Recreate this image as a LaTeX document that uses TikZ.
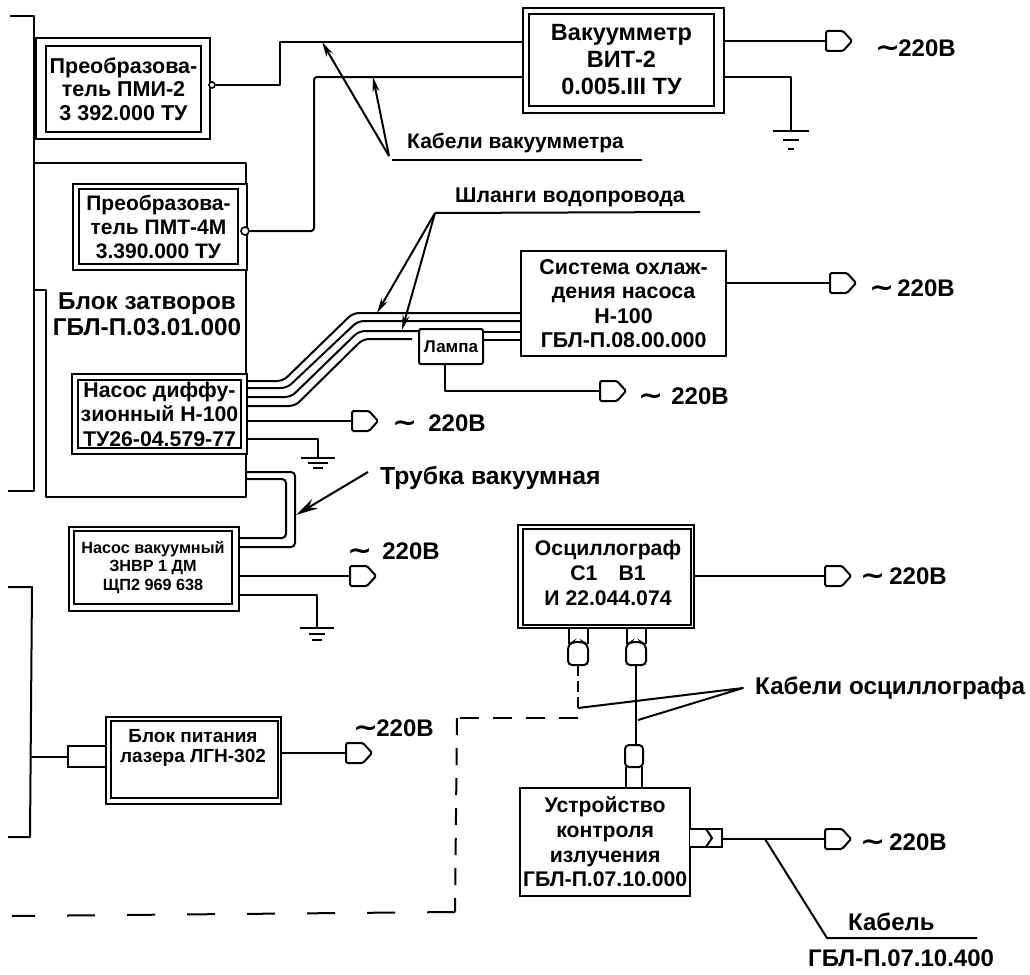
\documentclass[tikz,border=0pt]{standalone}
\usepackage{fontspec}
\setmainfont{Liberation Sans}
\newfontfamily\tlfont{DejaVu Sans}
\usetikzlibrary{arrows.meta}
\newcommand{\fsz}[2]{\fontsize{#1}{#2}\selectfont}
\newcommand{\tvolt}[1]{\scalebox{1.25}[1.1]{\tlfont\bfseries ∼}\hspace{#1pt}\hspace{-5pt}220В}
\tikzset{
 x=1pt,y=-1pt,
 wire/.style={line width=2pt,line join=round},
 outerbox/.style={draw,line width=2.2pt,anchor=north west,inner sep=0pt,fill=white},
 innerbox/.style={draw,line width=2pt,anchor=north west,inner sep=0pt,align=center,font=\bfseries,fill=white},
 txt/.style={font=\bfseries,inner sep=0pt,align=center},
 lbl/.style={font=\bfseries\fsz{21}{24},inner sep=0pt,anchor=west},
 volt/.style={font=\bfseries\fsz{24}{26},inner sep=0pt,anchor=west},
 leader/.style={line width=2pt,-{Stealth[length=15pt,width=7pt]}},
 bigleader/.style={line width=2pt,-{Stealth[length=22pt,width=11pt]}},
 gnd/.style={line width=2pt},
 hose/.style={line width=2pt,rounded corners=6pt},
}
\newcommand{\plug}[3]{%
 \coordinate (#1) at (#2,#3);
 \draw[line width=2pt,fill=white,rounded corners=1.5pt] (#2,#3-10)--(#2+17,#3-10)--(#2+26,#3)--(#2+17,#3+10)--(#2,#3+10)--cycle;}
\newcommand{\ground}[7]{%
 \coordinate (#1) at (#2,#3);
 \draw[gnd] (#2-#4,#3)--(#2+#4,#3) (#2-#5,#3+#7)--(#2+#5,#3+#7) (#2-#6,#3+2*#7)--(#2+#6,#3+2*#7);}
\begin{document}
\begin{tikzpicture}
\useasboundingbox (0,0) rectangle (1030,974);
% --- left frame lines
\draw[wire] (10,16)--(34,16)--(34,491)--(8,491);
\draw[wire] (8,587)--(32,587)--(30,837)--(8,837);
% --- block of gates (open-topped outline)
\coordinate (bzA) at (34,290);
\coordinate (bzB) at (46,290);
\coordinate (bzC) at (46,497);
\coordinate (bzD) at (246,497);
\coordinate (bzE) at (246,163);
\coordinate (bzF) at (34,163);
\draw[wire] (bzA)--(bzB)--(bzC)--(bzD)--(bzE)--(bzF);
\node[txt,font=\bfseries\fsz{24.3}{26}] (bzt) at (147,314) {Блок затворов\\ГБЛ-П.03.01.000};
% --- PMI-2
\node[outerbox,minimum width=174pt,minimum height=101pt] (pmio) at (35,37) {};
\node[innerbox,minimum width=155pt,minimum height=86pt,font=\bfseries\fsz{21.5}{23.5}] (pmi) at (45,45) {Преобразова-\\тель ПМИ-2\\3 392.000 ТУ};
% --- PMT-4M
\node[outerbox,minimum width=174pt,minimum height=86pt] (pmto) at (72,183) {};
\node[innerbox,minimum width=159pt,minimum height=75pt,font=\bfseries\fsz{21}{24}] (pmt) at (78,188) {Преобразова-\\тель ПМТ-4М\\3.390.000 ТУ};
\node[draw,circle,line width=1.6pt,fill=white,inner sep=0pt,minimum size=6pt] (pmipin) at (212,85) {};
\node[draw,circle,line width=1.6pt,fill=white,inner sep=0pt,minimum size=8pt] (pmtpin) at (245,231) {};
% --- VIT
\node[outerbox,minimum width=201pt,minimum height=105pt] (vito) at (522,7) {};
\node[innerbox,minimum width=185pt,minimum height=92pt,font=\bfseries\fsz{23.5}{27}] (vit) at (528,13) {Вакуумметр\\ВИТ-2\\0.005.III ТУ};
% cables
\draw[wire] (pmipin)--(280,85)--(280,42)--(vito.west |- 0,42);
\draw[wire,rounded corners=3pt] (pmtpin)--(314,231)--(314,77)--(vito.west |- 0,77);
\plug{p1}{826}{41}
\draw[wire] (vito.east |- p1)--(p1);
\ground{g1}{791}{131}{18}{8}{3}{9}
\draw[wire] (vito.east |- 0,77)--(791,77)--(g1);
\node[volt] (t220a) at (875,48) {\tvolt{3}};
% leaders kabeli vakuummetra
\coordinate (kv) at (389,156);
\coordinate (kvs) at (392,160);
\coordinate (kvend) at (642,160);
\coordinate (kv1) at (322,42);
\coordinate (kv2) at (373,77);
\draw[wire] (kvend)--(kvs);
\draw[leader] (kv)--(kv1);
\draw[leader] (kv)--(kv2);
\node[lbl] (tkv) at (407,143) {Кабели вакуумметра};
% --- cooling
\node[draw,line width=2.2pt,anchor=north west,minimum width=205pt,minimum height=105pt,align=center,inner sep=0pt,font=\bfseries\fsz{21.4}{24.5}] (cool) at (520,250) {Система охлаж-\\дения насоса\\Н-100\\ГБЛ-П.08.00.000};
\plug{p2}{830}{283}
\draw[wire] (cool.east |- p2)--(p2);
\node[volt] (t220b) at (869,288) {\tvolt{8}};
% --- diffusion pump
\node[outerbox,minimum width=175pt,minimum height=80pt] (dpo) at (71,373) {};
\node[innerbox,minimum width=163pt,minimum height=68pt,font=\bfseries\fsz{21.3}{24.5}] (dp) at (77,379) {Насос диффу-\\зионный Н-100\\ТУ26-04.579-77};
% lamp
\node[draw,line width=2pt,rounded corners=2pt,fill=white,minimum width=64pt,minimum height=35pt,anchor=north west,inner sep=0pt,font=\bfseries\fsz{17}{19}] (lamp) at (418,328) {Лампа};
% hoses
\draw[hose] (dpo.east |- 0,381)--(283,381)--(353,313)--(cool.west |- 0,313);
\draw[hose] (dpo.east |- 0,388)--(287,388)--(358,321)--(cool.west |- 0,321);
\draw[hose] (dpo.east |- 0,397)--(291,397)--(359,331)--(lamp.west |- 0,331);
\draw[hose] (dpo.east |- 0,406)--(295,406)--(363,339)--(412,339);
\draw[wire] (cool.west |- 0,332)--(lamp.east |- 0,332) (cool.west |- 0,340)--(lamp.east |- 0,340);
\plug{p3}{600}{391}
\draw[wire] (lamp.south -| 445,0)--(445,391)--(p3);
\node[volt] (t220c) at (638,396) {\tvolt{13}};
% leaders hoses
\coordinate (sh) at (435,213);
\coordinate (shend) at (700,212);
\coordinate (sh1) at (377,313);
\coordinate (sh2) at (402,330);
\draw[wire] (shend)--(sh);
\draw[leader] (sh)--(sh1);
\draw[leader] (sh)--(sh2);
\node[lbl,font=\bfseries\fsz{21.3}{24}] (tsh) at (455,197) {Шланги водопровода};
% pump outputs
\plug{p4}{352}{421}
\draw[wire] (dpo.east |- p4)--(p4);
\node[volt] (t220d) at (392,423) {\tvolt{16}};
\ground{g2}{318}{458}{17}{10}{5}{5}
\draw[wire] (dpo.east |- 0,439)--(318,439)--(g2);
% --- vacuum pump
\node[outerbox,minimum width=170pt,minimum height=84pt] (vpo) at (68,526) {};
\node[innerbox,minimum width=158pt,minimum height=73pt,font=\bfseries\fsz{16.2}{18.5}] (vp) at (73,530) {Насос вакуумный\\ЗНВР 1 ДМ\\ЩП2 969 638};
\draw[line width=2pt,rounded corners=4pt] (bzD |- 0,472)--(295,472)--(295,547)--(vpo.east |- 0,547);
\draw[line width=2pt,rounded corners=4pt] (bzD |- 0,479)--(286,479)--(286,538)--(vpo.east |- 0,538);
\coordinate (tv) at (368,472);
\coordinate (tv1) at (296,515);
\draw[bigleader] (tv)--(tv1);
\node[lbl,font=\bfseries\fsz{24.7}{26}] (ttv) at (380,478) {Трубка вакуумная};
\plug{p5}{350}{576}
\draw[wire] (vpo.east |- p5)--(p5);
\node[volt] (t220e) at (347,551) {\tvolt{15}};
\ground{g3}{317}{628}{17}{8}{5}{6}
\draw[wire] (vpo.east |- 0,595)--(317,595)--(g3);
% --- laser PSU
\node[outerbox,minimum width=175pt,minimum height=87pt] (lao) at (105,716) {};
\node[innerbox,minimum width=167pt,minimum height=77pt] (la) at (110,720) {};
\node[txt,font=\bfseries\fsz{19}{20.5}] (lat) at (193,748) {Блок питания\\лазера ЛГН-302};
\node[draw,line width=2pt,anchor=north west,minimum width=38pt,minimum height=21pt,inner sep=0pt] (lac) at (67,745) {};
\draw[wire] (30,757)--(lac.west |- 0,757);
\plug{p6}{346}{753}
\draw[wire] (lao.east |- p6)--(p6);
\node[volt] (t220f) at (353,728) {\tvolt{3}};
% --- oscillograph
\node[outerbox,minimum width=176pt,minimum height=103pt] (oso) at (517,524) {};
\node[innerbox,minimum width=168pt,minimum height=96pt] (os) at (522,528) {};
\node[txt,font=\bfseries\fsz{21.2}{25}] (ost) at (608,573) {Осциллограф\\С1\quad В1\\И 22.044.074};
\plug{p7}{825}{576}
\draw[wire] (oso.east |- p7)--(p7);
\node[volt] (t220g) at (860,576) {\tvolt{9}};
\foreach \n/\cx in {c1/578,c2/636}{
 \draw[line width=2pt] (\cx-9.5,627)--(\cx-9.5,644) (\cx+9.5,627)--(\cx+9.5,644);
 \draw[line width=2pt,rounded corners=4pt,fill=white] (\cx-10,645)--(\cx-5,642)--(\cx+5,642)--(\cx+10,645)--(\cx+10,665)--(\cx-10,665)--cycle;
 \coordinate (\n) at (\cx,665);}
% --- control device
\node[draw,line width=2.2pt,anchor=north west,minimum width=170pt,minimum height=108pt,align=center,inner sep=0pt,font=\bfseries\fsz{21.2}{24.7}] (ud) at (519,787) {Устройство\\контроля\\излучения\\ГБЛ-П.07.10.000};
\draw[line width=2pt] (626,787)--(626,767) (642,787)--(642,767);
\draw[line width=2pt,rounded corners=4pt,fill=white] (625,745)--(643,745)--(643,767)--(625,767)--cycle;
\coordinate (ud1) at (636,745);
\draw[wire] (c2)--(ud1);
% dashed cable
\coordinate (d0) at (578,708);
\coordinate (d1) at (578,718);
\coordinate (d2) at (457,718);
\coordinate (d3) at (455,912);
\coordinate (d4) at (12,916);
\draw[line width=2pt,dash pattern=on 11pt off 5pt] (c1)--(d0);
\draw[line width=2pt,dash pattern=on 19pt off 14pt] (d1)--(d2);
\draw[line width=2pt,dash pattern=on 17pt off 13pt] (d2)--(d3);
\draw[line width=2pt,dash pattern=on 28pt off 32pt] (d3)--(d4);
% leaders oscillograph
\coordinate (ko) at (743,688);
\coordinate (ko1) at (578,708);
\coordinate (ko2) at (638,720);
\draw[wire] (ko1)--(ko)--(ko2);
\node[lbl,font=\bfseries\fsz{24.2}{26}] (tko) at (755,688) {Кабели осциллографа};
% device connector
\coordinate (uc) at (722,839);
\draw[line width=2pt,fill=white] (690,829)--(722,829)--(722,847)--(690,847);
\draw[line width=2pt] (706,829)--(712,838)--(706,847);
\plug{p8}{825}{839}
\draw[wire] (uc)--(p8);
\node[volt] (t220h) at (860,842) {\tvolt{9}};
\coordinate (kb) at (765,839);
\coordinate (kb2) at (827,938);
\coordinate (kb3) at (977,938);
\draw[wire] (kb)--(kb2)--(kb3);
\node[lbl,font=\bfseries\fsz{24}{26}] (tkb) at (848,922) {Кабель};
\node[lbl,font=\bfseries\fsz{24}{26}] (tkb2) at (808,958) {ГБЛ-П.07.10.400};
\end{tikzpicture}
\end{document}
